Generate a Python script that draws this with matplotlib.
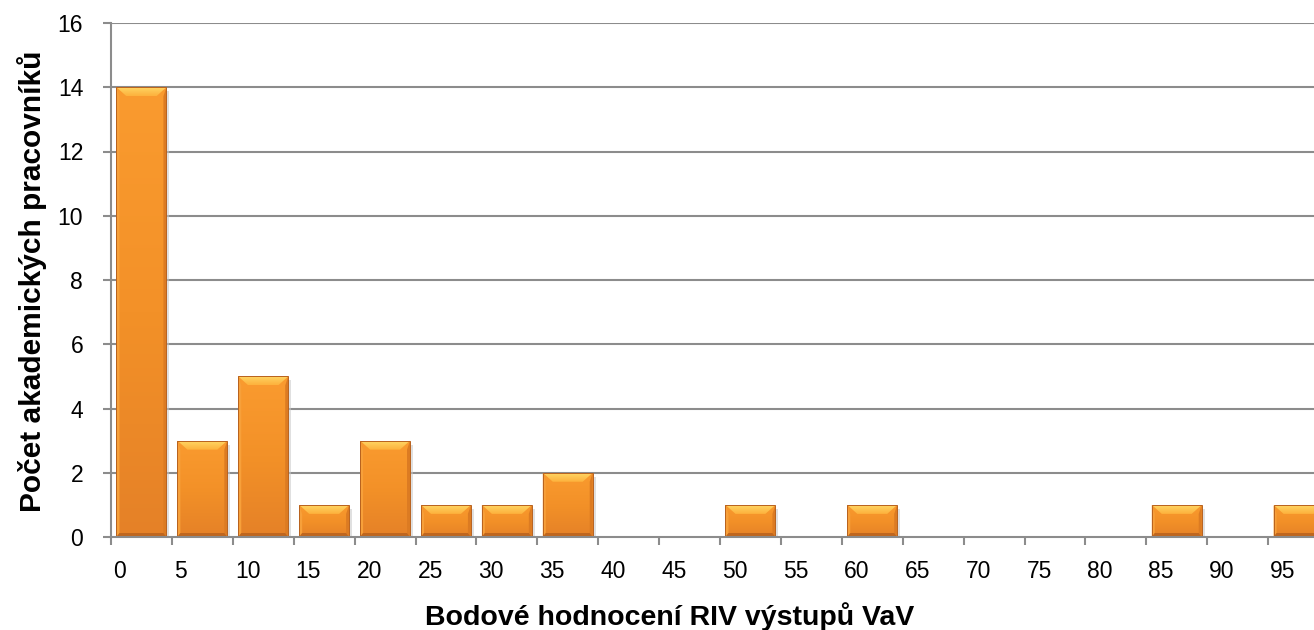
import matplotlib
matplotlib.use('Agg')
import matplotlib.pyplot as plt
import numpy as np
from matplotlib.colors import LinearSegmentedColormap
from matplotlib.patches import Polygon, Rectangle

# Data: bins of 5 points (left edge) and number of staff
bin_edges = list(range(0, 100, 5))
counts = [14, 3, 5, 1, 3, 1, 1, 2, 0, 0, 1, 0, 1, 0, 0, 0, 0, 1, 0, 1]
tick_labels = [str(v) for v in bin_edges]
y_ticks = [0, 2, 4, 6, 8, 10, 12, 14, 16]

BIN = 5
BAR_W = 0.82 * BIN

W, H, DPI = 1314, 630, 100
plt.rcParams['font.family'] = ['Liberation Sans', 'DejaVu Sans']

fig = plt.figure(figsize=(W / DPI, H / DPI), dpi=DPI)
# axes extends beyond the right edge (chart is cropped like in the original)
ax_l, ax_b, ax_w, ax_h = 111, 93, 1218, 514
ax = fig.add_axes([ax_l / W, ax_b / H, ax_w / W, ax_h / H])

px_x = ax_w / 100.0   # pixels per x unit
px_y = ax_h / 16.0    # pixels per y unit

grid_c = '#8c8c8c'
for y in y_ticks[1:]:
    ax.axhline(y, color=grid_c, lw=1.5, zorder=1)

face_cmap = LinearSegmentedColormap.from_list('face', ['#fa9b2f', '#f39128', '#e58127'])
top_cmap = LinearSegmentedColormap.from_list('top', ['#ffd563', '#fdb13c'])
grad = np.linspace(0, 1, 256).reshape(-1, 1)

# sloupce s efektem zkosení (bevel)
for left, c in zip(bin_edges, counts):
    if c <= 0:
        continue
    x0 = left + (BIN - BAR_W) / 2
    x1 = x0 + BAR_W
    # jemný stín vpravo
    ax.add_patch(Rectangle((x1, -2 / px_y), 3 / px_x, c - 2 / px_y,
                           facecolor='#c8c8c8', edgecolor='none', alpha=0.55, zorder=2))
    rect = Rectangle((x0, 0), BAR_W, c, facecolor='none', edgecolor='none', zorder=3)
    ax.add_patch(rect)
    im = ax.imshow(grad, extent=(x0, x1, 0, c), cmap=face_cmap, aspect='auto', zorder=3)
    im.set_clip_path(rect)
    bx = 10 / px_x
    by = 9 / px_y
    sx = 3 / px_x
    bb = 4 / px_y
    # horní zkosení
    top = Polygon([(x0, c), (x1, c), (x1 - bx, c - by), (x0 + bx, c - by)],
                  facecolor='none', edgecolor='none', zorder=4)
    ax.add_patch(top)
    imt = ax.imshow(grad, extent=(x0, x1, c - by, c), cmap=top_cmap, aspect='auto', zorder=4)
    imt.set_clip_path(top)
    # boční zkosení
    ax.add_patch(Polygon([(x0, c), (x0 + sx, c - by), (x0 + sx, bb), (x0, 0)],
                         facecolor='#f7a03a', edgecolor='none', zorder=4))
    ax.add_patch(Polygon([(x1, c), (x1 - sx, c - by), (x1 - sx, bb), (x1, 0)],
                         facecolor='#dc7b22', edgecolor='none', zorder=4))
    # spodní zkosení
    ax.add_patch(Polygon([(x0, 0), (x1, 0), (x1 - sx, bb), (x0 + sx, bb)],
                         facecolor='#bf661e', edgecolor='none', zorder=4))
    ax.add_patch(Rectangle((x0, 0), BAR_W, c, facecolor='none', edgecolor='#b8621e',
                           lw=0.7, zorder=5))

ax.set_xlim(0, 100)
ax.set_ylim(0, 16)

ax.set_xticks(bin_edges)
ax.set_xticklabels([])
for x, lab in zip(bin_edges, tick_labels):
    ax.text(x + 2 / px_x, -34 / px_y, lab, ha='left', va='center', fontsize=16.5, clip_on=False)
ax.set_yticks(y_ticks)
ax.set_yticklabels([str(v) for v in y_ticks], fontsize=16.5)
ax.tick_params(axis='y', length=6, width=1.5, color=grid_c, pad=14)
ax.tick_params(axis='x', length=6, width=1.5, color=grid_c)
for s in ['top', 'right']:
    ax.spines[s].set_visible(False)
for s in ['left', 'bottom']:
    ax.spines[s].set_color(grid_c)
    ax.spines[s].set_linewidth(1.5)
    ax.spines[s].set_zorder(6)

fig.text(670 / W, 1 - 625 / H, 'Bodové hodnocení RIV výstupů VaV', ha='center', va='baseline',
         fontsize=20.5, fontweight='bold')
fig.text(41 / W, 1 - 281 / H, 'Počet akademických pracovníků', ha='center', va='baseline',
         rotation=90, rotation_mode='anchor', fontsize=21.5, fontweight='bold')

fig.savefig('out.png', dpi=DPI)
